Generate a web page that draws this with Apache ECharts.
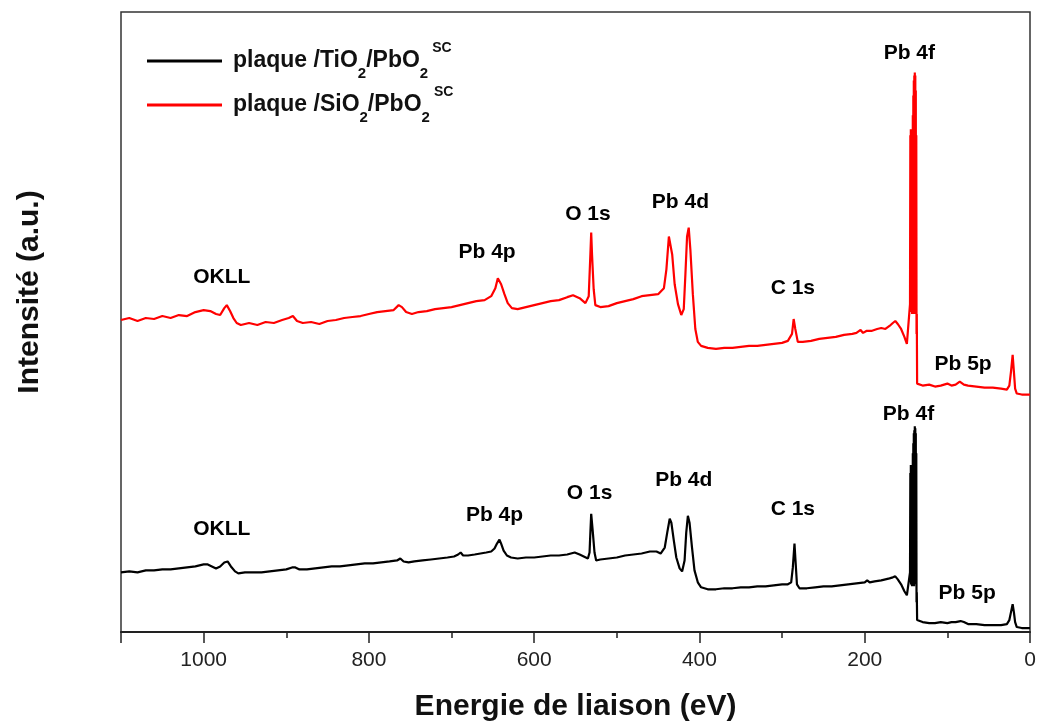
<!DOCTYPE html>
<html>
<head>
<meta charset="utf-8">
<script src="https://cdn.jsdelivr.net/npm/echarts@6/dist/echarts.min.js"></script>
<style>html,body{margin:0;padding:0;background:#fff}#c{width:1040px;height:727px}</style>
</head>
<body>
<div id="c"></div>
<script>
// ---- data (binding energy eV, intensity a.u.) ----
const seriesNames = ['plaque /TiO2/PbO2 SC', 'plaque /SiO2/PbO2 SC'];
const xTicks = [0, 200, 400, 600, 800, 1000];

const redE = [1100,1090,1080,1070,1060,1050,1040,1030,1020,1010,1000,992,985,980,975,972,968,964,960,955,945,935,925,915,905,897,892,887,880,870,860,850,840,830,820,810,800,790,780,770,764,760,755,748,740,730,720,710,700,690,680,670,660,652,647,644,642,640,636,632,627,620,610,600,590,580,570,560,553,545,538,534,532,531,530,528,526,520,510,500,490,480,470,460,450,443,440,437,435,433,430,426,422,419,417,415,413,411,408,405,402,398,390,380,370,360,350,340,330,320,310,300,293,288,286,284,281,275,265,255,245,235,225,215,210,205,202,198,192,185,180,175,170,166,163,160,156,152,149,147,145.2,144.8,144.5,144.2,143.9,143.6,143.3,143.0,142.7,142.4,142.1,141.8,141.5,141.2,140.9,140.6,140.3,140.0,139.7,139.4,139.1,138.8,138.5,138.2,137.9,137.6,137.3,137.0,136.6,135,130,122,115,108,100,95,90,85,80,75,65,55,45,35,28,25,23,21,19.5,18,16,10,0];
const redI = [314,316,313,316,315,318,316,319,318,322,324,323,320,319,326,329,323,316,311,309,311,309,312,311,314,316,318,313,311,312,310,313,314,316,317,318,320,322,323,324,329,327,322,320,322,323,325,326,327,329,331,333,334,338,346,356,358,350,340,331,326,325,327,329,331,333,334,337,339,336,331,338,380,402,380,345,329,327,328,331,333,335,338,339,340,346,365,398,398,380,350,330,319,325,360,398,407,385,340,305,292,288,286,285,286,286,287,288,288,289,290,291,293,300,315,305,292,292,293,295,296,297,299,300,301,304,301,303,303,305,306,305,308,311,313,310,305,297,290,288,330,500,330,506,325,500,322,495,320,490,325,520,320,540,322,555,320,560,325,563,330,560,330,545,320,500,300,320,250,249,248,249,247,248,250,248,249,252,249,248,247,246,246,245,244,248,262,279,262,245,240,239,239];

const blackE = [1100,1090,1080,1070,1060,1050,1040,1030,1020,1010,1000,995,990,985,980,975,971,967,962,958,950,940,930,920,910,900,893,889,884,875,865,855,845,835,825,815,805,795,785,775,766,762,758,752,745,735,725,715,705,697,692,689,686,680,672,665,658,652,648,645,642,640,637,633,628,620,610,600,590,580,570,560,551,545,540,535,533,532,531,530,529,527,525,520,510,500,490,480,470,460,452,447,442,439,436,434,431,428,424,421,418,416,414,412,409,406,402,398,390,380,370,360,350,340,330,320,310,300,293,289,287,285,284,282,279,270,260,250,240,230,220,210,200,197,194,188,180,175,170,166,163,160,156,152,149,147,145.2,144.8,144.5,144.2,143.9,143.6,143.3,143.0,142.7,142.4,142.1,141.8,141.5,141.2,140.9,140.6,140.3,140.0,139.7,139.4,139.1,138.8,138.5,138.2,137.9,137.6,137.3,137.0,136.6,135,130,122,115,108,100,95,90,84,80,75,65,55,45,35,28,25,23,21,19.5,18,16,10,0];
const blackI = [60,61,60,62,62,63,63,64,65,66,68,68,66,64,66,70,71,66,61,59,60,60,60,61,62,63,65,65,63,63,64,65,66,66,67,68,69,69,70,71,72,74,71,70,71,72,73,74,75,76,78,80,77,77,78,79,80,81,84,89,93,89,82,77,75,74,75,75,76,77,77,78,80,78,76,74,80,100,119,119,100,80,72,73,74,75,77,78,79,81,81,79,85,100,114,110,92,75,64,61,72,100,117,110,85,62,50,45,43,43,44,44,45,45,46,46,47,48,48,50,65,89,75,48,44,44,45,46,46,47,48,49,50,52,50,51,52,53,54,55,56,53,48,41,37,36,60,160,50,168,48,165,47,160,46,165,48,180,46,190,47,200,46,203,48,207,50,205,50,200,50,180,30,40,12,11,10,9,9,10,9,10,10,11,10,8,8,7,7,7,8,12,20,28,20,10,5,4,4];

const peakLabels = ['OKLL', 'Pb 4p', 'O 1s', 'Pb 4d', 'C 1s', 'Pb 4f', 'Pb 5p'];
const redLabelE = [978, 657, 535, 423, 287, 146, 81];
const redLabelY = [357, 382, 420, 433, 346, 583, 270];
const blackLabelE = [978, 648, 533, 419, 287, 147, 76];
const blackLabelY = [103, 118, 140, 153, 124, 219, 39];

// ---- build ----
const pairs = (xs, ys) => xs.map((x, i) => [x, ys[i]]);
const labelData = (xs, ys) => xs.map((x, i) => ({ value: [x, ys[i]], name: peakLabels[i] }));
const FONT = '"Liberation Sans", Arial, sans-serif';
const peakLabelStyle = { show: true, position: 'inside', formatter: p => p.name, fontFamily: FONT, fontWeight: 'bold',
  fontSize: 21, color: '#000', opacity: 1, textBorderWidth: 0 };

const chart = echarts.init(document.getElementById('c'), null, { renderer: 'canvas' });
chart.setOption({
  animation: false,
  backgroundColor: '#ffffff',
  grid: { left: 121, right: 10, top: 12, bottom: 91, show: true, borderColor: '#333', borderWidth: 1.5 },
  legend: {
    data: [seriesNames[0], seriesNames[1]],
    orient: 'vertical',
    left: 142, top: 36,
    icon: 'rect',
    itemWidth: 75, itemHeight: 3, itemGap: 4,
    selectedMode: false,
    formatter: function (name) {
      return name === seriesNames[0]
        ? '{n|plaque /TiO}{sub|2}{n|/PbO}{sub|2}{sup|SC}'
        : '{n|plaque /SiO}{sub|2}{n|/PbO}{sub|2}{sup|SC}';
    },
    textStyle: {
      padding: [0, 0, 0, 6],
      rich: {
        n: { fontFamily: FONT, fontWeight: 'bold', fontSize: 23, color: '#111', lineHeight: 40, verticalAlign: 'middle' },
        sub: { fontFamily: FONT, fontWeight: 'bold', fontSize: 15, color: '#111', lineHeight: 18, verticalAlign: 'bottom' },
        sup: { fontFamily: FONT, fontWeight: 'bold', fontSize: 14, color: '#111', lineHeight: 18, verticalAlign: 'top', padding: [0, 0, 0, 4] }
      }
    }
  },
  xAxis: {
    type: 'value', inverse: true, min: 0, max: 1100, interval: 200,
    name: 'Energie de liaison (eV)', nameLocation: 'middle', nameGap: 60,
    nameTextStyle: { fontFamily: FONT, fontWeight: 'bold', fontSize: 30, color: '#111' },
    axisLine: { show: true, lineStyle: { color: '#222', width: 2 } },
    axisTick: { show: true, inside: false, length: 11, lineStyle: { color: '#222', width: 1.5 } },
    minorTick: { show: true, splitNumber: 2, length: 6, lineStyle: { color: '#222', width: 1.5 } },
    axisLabel: { showMaxLabel: false, fontFamily: FONT, fontSize: 21, color: '#222', margin: 18,
      formatter: v => (xTicks.indexOf(v) >= 0 ? String(v) : '') },
    splitLine: { show: false }
  },
  yAxis: {
    type: 'value', min: 0, max: 624,
    axisLine: { show: false }, axisTick: { show: false }, axisLabel: { show: false }, splitLine: { show: false }
  },
  graphic: [{
    type: 'text', x: 30, y: 292, rotation: Math.PI / 2,
    style: { text: 'Intensité (a.u.)', fontFamily: FONT, fontWeight: 'bold', fontSize: 30, fill: '#111', align: 'center', verticalAlign: 'middle' }
  }],
  series: [
    { name: seriesNames[0], type: 'line', data: pairs(blackE, blackI), showSymbol: false, symbol: 'none',
      lineStyle: { color: '#000', width: 2.2 }, itemStyle: { color: '#000' }, z: 3 },
    { name: seriesNames[1], type: 'line', data: pairs(redE, redI), showSymbol: false, symbol: 'none',
      lineStyle: { color: '#ff0000', width: 2.2 }, itemStyle: { color: '#ff0000' }, z: 3 },
    { name: 'labels-red', type: 'scatter', data: labelData(redLabelE, redLabelY), symbolSize: 1, silent: true,
      itemStyle: { color: '#fff', opacity: 1 }, z: 4, label: peakLabelStyle },
    { name: 'labels-black', type: 'scatter', data: labelData(blackLabelE, blackLabelY), symbolSize: 1, silent: true,
      itemStyle: { color: '#fff', opacity: 1 }, z: 4, label: peakLabelStyle }
  ]
});
</script>
</body>
</html>
